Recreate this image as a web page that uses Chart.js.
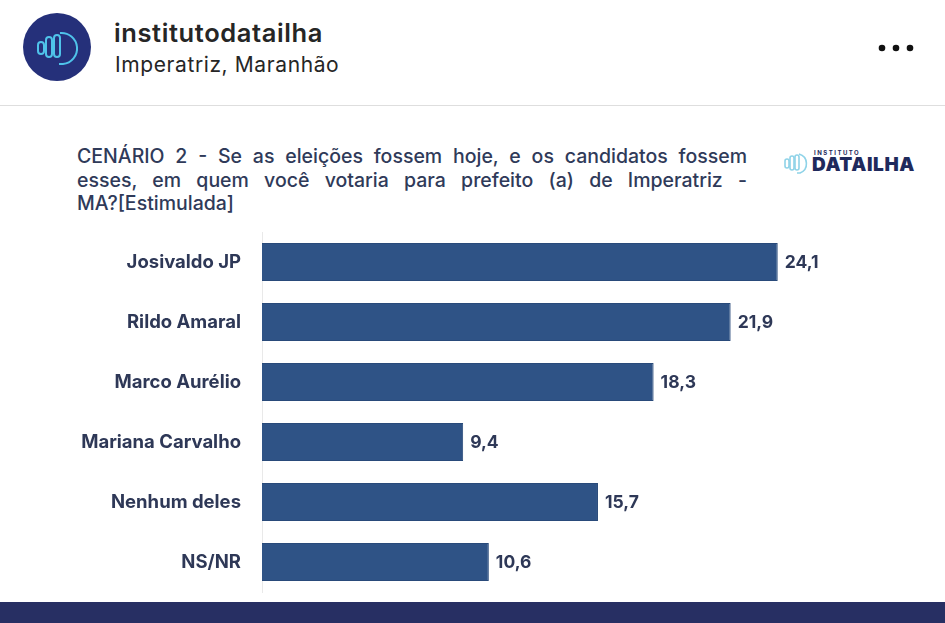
<!DOCTYPE html>
<html>
<head>
<meta charset="utf-8">
<script src="https://cdn.jsdelivr.net/npm/chart.js@4.4.1/dist/chart.umd.min.js"></script>
<style>
  html, body { margin: 0; padding: 0; background: #fff; }
  body { width: 945px; height: 623px; position: relative; overflow: hidden; font-family: Inter, "Open Sans", sans-serif; }
  #avatar { position: absolute; left: 23px; top: 13px; width: 68px; height: 68px; border-radius: 50%; background: #25307a; }
  #avatar svg { position: absolute; left: 0; top: 0; }
  #name { position: absolute; left: 114px; top: 17px; font-size: 25.5px; font-weight: 600; color: #262626; letter-spacing: 0.6px; }
  #place { position: absolute; left: 115px; top: 52px; font-size: 21px; color: #262626; letter-spacing: 0.6px; }
  #dots { position: absolute; left: 877px; top: 43px; }
  #sep { position: absolute; left: 0; top: 105px; width: 945px; height: 1px; background: #dedede; }
  #title { position: absolute; left: 77px; top: 145px; width: 670px; font-size: 19.5px; font-weight: 500; color: #2f3a59; line-height: 23.5px; }
  #title .j { text-align: justify; text-align-last: justify; }
  #logo { position: absolute; left: 784px; top: 149px; }
  #logo .small { position: absolute; left: 30px; top: 0; font-size: 6px; font-weight: 700; letter-spacing: 1.5px; color: #1f2a5c; }
  #logo .big { position: absolute; left: 28px; top: 5px; font-size: 19px; font-weight: 900; letter-spacing: 0.6px; color: #1f2a5c; line-height: 22px; }
  #strip { position: absolute; left: 0; top: 602px; width: 945px; height: 21px; background: #272f63; }
  #wrap { position: absolute; left: 0; top: 222px; width: 945px; height: 380px; }
</style>
</head>
<body>
<div id="avatar">
  <svg width="68" height="68" viewBox="0 0 68 68" fill="none" stroke="#4fc3ea" stroke-width="2">
    <rect x="15" y="29" width="6" height="12" rx="3"/>
    <rect x="23" y="24" width="6" height="20" rx="3"/>
    <rect x="31" y="22" width="6" height="22" rx="3"/>
    <path d="M37 20 A15 15 0 0 1 40 51 L36 51"/>
  </svg>
</div>
<div id="name">institutodatailha</div>
<div id="place">Imperatriz, Maranhão</div>
<svg id="dots" width="40" height="10"><circle cx="5" cy="5" r="3.3" fill="#111"/><circle cx="19" cy="5" r="3.3" fill="#111"/><circle cx="33" cy="5" r="3.3" fill="#111"/></svg>
<div id="sep"></div>

<div id="title">
  <div class="j">CENÁRIO 2 - Se as eleições fossem hoje, e os candidatos fossem</div>
  <div class="j">esses, em quem você votaria para prefeito (a) de Imperatriz -</div>
  <div>MA?[Estimulada]</div>
</div>

<div id="logo">
  <svg width="26" height="26" viewBox="0 0 26 26" fill="none" stroke="#8fd3e8" stroke-width="1.6" style="position:absolute;left:0;top:1px">
    <rect x="1" y="9" width="4" height="9" rx="2"/>
    <rect x="6" y="6" width="4" height="14" rx="2"/>
    <rect x="11" y="5" width="4" height="15" rx="2"/>
    <path d="M15 4 A10 10 0 0 1 16 23 L13 23"/>
  </svg>
  <div class="small">INSTITUTO</div>
  <div class="big">DATAILHA</div>
</div>

<div id="wrap"><canvas id="barChart"></canvas></div>
<div id="strip"></div>

<script>
const candidates = ['Josivaldo JP', 'Rildo Amaral', 'Marco Aurélio', 'Mariana Carvalho', 'Nenhum deles', 'NS/NR'];
const votes = [24.1, 21.9, 18.3, 9.4, 15.7, 10.6];
const voteLabels = ['24,1', '21,9', '18,3', '9,4', '15,7', '10,6'];

const textColor = '#2e3857';
const fontFamily = 'Inter, "Open Sans", sans-serif';

// value labels at the end of each bar
const valueLabels = {
    id: 'valueLabels',
    afterDatasetsDraw(chart) {
        const ctx = chart.ctx;
        const meta = chart.getDatasetMeta(0);
        ctx.save();
        ctx.font = '700 17.5px ' + fontFamily;
        ctx.fillStyle = textColor;
        ctx.textBaseline = 'middle';
        ctx.textAlign = 'left';
        meta.data.forEach((bar, i) => {
            ctx.fillText(voteLabels[i], bar.x + 7, bar.y + 1);
        });
        ctx.restore();
    }
};

const ctx = document.getElementById('barChart').getContext('2d');
const chart = new Chart(ctx, {
    type: 'bar',
    data: {
        labels: candidates,
        datasets: [{
            data: votes,
            backgroundColor: '#2f5386',
            borderColor: '#294a7a',
            borderWidth: 1,
            barPercentage: 1,
            categoryPercentage: 0.63
        }]
    },
    options: {
        indexAxis: 'y',
        responsive: true,
        maintainAspectRatio: false,
        animation: false,
        layout: {
            padding: { top: 10, bottom: 10, left: 0, right: 41 }
        },
        scales: {
            x: {
                display: false,
                min: 0,
                max: 30
            },
            y: {
                afterFit(scale) {
                    scale.width = 262;
                    // tick padding should not push the plot area in vertically
                    scale.paddingTop = 0;
                    scale.paddingBottom = 0;
                },
                grid: { display: false, drawTicks: false },
                border: { display: true, color: '#e9e9e9', width: 1 },
                ticks: {
                    padding: 21,
                    color: textColor,
                    font: { family: fontFamily, size: 18.5, weight: '700' }
                }
            }
        },
        plugins: {
            legend: { display: false },
            tooltip: { enabled: false }
        }
    },
    plugins: [valueLabels]
});
</script>
</body>
</html>
